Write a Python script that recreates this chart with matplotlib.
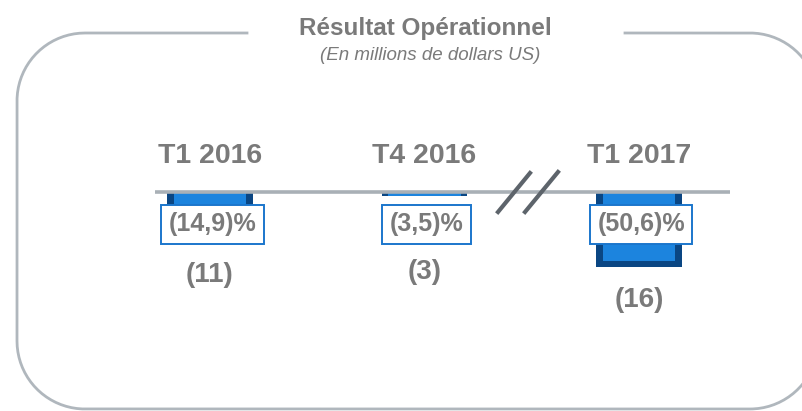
import numpy as np
import matplotlib
matplotlib.use("Agg")
import matplotlib.pyplot as plt
import matplotlib.transforms as mtransforms

# data
quarters = ["T1 2016", "T4 2016", "T1 2017"]
results = [-11, -3, -16]            # résultat opérationnel (M$ US)
margins = [-14.9, -3.5, -50.6]      # marge opérationnelle (%)
title = "Résultat Opérationnel"
subtitle = "(En millions de dollars US)"

def fmt_neg(v, dec=0):
    s = f"{abs(v):.{dec}f}".replace(".", ",")
    return f"({s})" if v < 0 else s

def frame_outline(x0, y0, x1, y1, r, gap):
    """Rounded rectangle (y down) as a polyline, open at the top between gap[0] and gap[1]."""
    pts = [(gap[1], y0)]
    corners = [(x1 - r, y0 + r, -90, 0), (x1 - r, y1 - r, 0, 90),
               (x0 + r, y1 - r, 90, 180), (x0 + r, y0 + r, 180, 270)]
    for cx, cy, a0, a1 in corners:
        t = np.radians(np.linspace(a0, a1, 40))
        pts += list(zip(cx + r * np.cos(t), cy + r * np.sin(t)))
    pts.append((gap[0], y0))
    return np.array(pts)

GREY = "#7a7a7a"
FONT = "Liberation Sans"

fig = plt.figure(figsize=(8.02, 4.11), dpi=100)

# data axes: x = category index, y = margin in %
ax = fig.add_axes([0, 0, 1, 1])
ax.set_xlim(-0.979, 2.760)
ax.set_ylim(-146.5, 127.2)
ax.axis("off")
x = range(len(quarters))
# bevelled look: dark outer bar + lighter inner face
ax.bar(x, margins, width=0.40, color="#0a4683", zorder=2)
ax.bar(x, [m * 0.92 for m in margins], width=0.34, color="#1c84de", zorder=3)

# overlay in pixel units (y down) for frame, text, decorations
deco = fig.add_axes([0, 0, 1, 1])
deco.set_xlim(0, 802)
deco.set_ylim(411, 0)
deco.axis("off")

# rounded frame, right side runs off the picture
outline = frame_outline(17, 33, 818, 409, 68, (247, 625))
deco.plot(outline[:, 0], outline[:, 1], color="#b0b7bd", lw=2.0)

deco.text(425, 29, title, ha="center", va="center", fontsize=17.5,
          fontweight="bold", color=GREY, family=FONT, zorder=4)
deco.text(430, 55, subtitle, ha="center", va="center", fontsize=13.5,
          style="italic", color=GREY, family=FONT, zorder=4)

# baseline + axis break
deco.plot([155, 730], [192, 192], color="#a9b0b6", lw=2.6, zorder=5,
          solid_capstyle="butt")
deco.plot([498, 530], [212, 173], color="#5d646b", lw=3, zorder=6)
deco.plot([525, 558], [212, 172], color="#5d646b", lw=3, zorder=6)

# category labels, margin boxes, result labels
mix = mtransforms.blended_transform_factory(ax.transData, deco.transData)
box_y = 224
result_y = [275, 272, 300]
for i, q in enumerate(quarters):
    ax.text(i, 156, q, transform=mix, ha="center", va="center", fontsize=20.5,
            fontweight="bold", color=GREY, family=FONT, zorder=7)
    ax.text(i + 0.01, box_y, fmt_neg(margins[i], 1) + "%", transform=mix,
            ha="center", va="center", fontsize=18, fontweight="bold",
            color=GREY, family=FONT, zorder=8,
            bbox=dict(boxstyle="square,pad=0.3", fc="white",
                      ec="#1b76cc", lw=1.4))
    ax.text(i, result_y[i], fmt_neg(results[i]), transform=mix, ha="center",
            va="center", fontsize=20, fontweight="bold", color=GREY,
            family=FONT, zorder=7)

fig.savefig("out.png", dpi=100)
